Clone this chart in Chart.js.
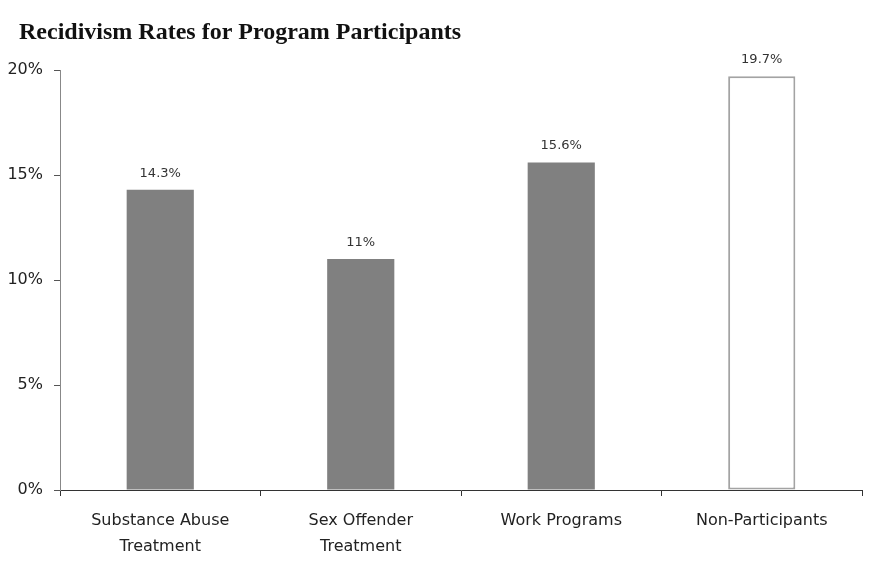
<!DOCTYPE html>
<html>
<head>
<meta charset="utf-8">
<script src="https://cdn.jsdelivr.net/npm/chart.js@4/dist/chart.umd.min.js"></script>
<style>
  html, body { margin: 0; padding: 0; background: #fff; }
  #wrap { width: 871px; height: 573px; }
</style>
</head>
<body>
<div id="wrap"><canvas id="recidivismChart"></canvas></div>
<script>
// Recidivism rates by program (percent)
const programs = [
    ['Substance Abuse', 'Treatment'],
    ['Sex Offender', 'Treatment'],
    'Work Programs',
    'Non-Participants'
];
const rates = [14.3, 11, 15.6, 19.7];
const yTicks = [0, 5, 10, 15, 20];
const chartTitle = 'Recidivism Rates for Program Participants';

const barFill = ['#808080', '#808080', '#808080', '#ffffff'];
const barEdge = ['#808080', '#808080', '#808080', '#a3a3a3'];
const barEdgeWidth = [0, 0, 0, 2];

// Left-aligned title flush with the page edge, not the plot
const titleText = {
    id: 'titleText',
    afterDraw(chart) {
        const ctx = chart.ctx;
        ctx.save();
        ctx.font = 'bold 24px "Liberation Serif"';
        ctx.fillStyle = '#111';
        ctx.textAlign = 'left';
        ctx.textBaseline = 'alphabetic';
        ctx.fillText(chartTitle, 19, 39);
        ctx.restore();
    }
};

// Value labels above each bar
const valueLabels = {
    id: 'valueLabels',
    afterDatasetsDraw(chart) {
        const ctx = chart.ctx;
        const meta = chart.getDatasetMeta(0);
        ctx.save();
        ctx.font = '13px "DejaVu Sans"';
        ctx.fillStyle = '#333';
        ctx.textAlign = 'center';
        ctx.textBaseline = 'bottom';
        meta.data.forEach((bar, i) => {
            ctx.fillText(rates[i] + '%', bar.x, bar.y - 10);
        });
        ctx.restore();
    }
};

new Chart(document.getElementById('recidivismChart'), {
    type: 'bar',
    data: {
        labels: programs,
        datasets: [{
            label: 'Recidivism rate',
            data: rates,
            backgroundColor: barFill,
            borderColor: barEdge,
            borderWidth: barEdgeWidth,
            borderSkipped: false,
            categoryPercentage: 1,
            barPercentage: 0.335
        }]
    },
    options: {
        responsive: true,
        maintainAspectRatio: false,
        animation: false,
        layout: { padding: { left: 0, right: 9, top: 70, bottom: 0 } },
        plugins: {
            legend: { display: false },
            tooltip: { enabled: false },
            title: { display: false }
        },
        scales: {
            x: {
                grid: {
                    offset: true,
                    drawOnChartArea: false,
                    tickLength: 6,
                    color: '#333'
                },
                border: { color: '#333', width: 1 },
                ticks: {
                    color: '#222',
                    padding: 12,
                    maxRotation: 0,
                    font: { family: '"DejaVu Sans"', size: 16, lineHeight: 1.6 }
                },
                afterFit(scale) { scale.height = 83; }
            },
            y: {
                min: 0,
                max: 20,
                afterBuildTicks(scale) {
                    scale.ticks = yTicks.map(v => ({ value: v }));
                },
                grid: {
                    drawOnChartArea: false,
                    tickLength: 6,
                    color: '#555'
                },
                border: { color: '#888', width: 1 },
                ticks: {
                    color: '#222',
                    padding: 11,
                    callback: v => v + '%',
                    font: { family: '"DejaVu Sans"', size: 16 }
                },
                afterFit(scale) { scale.width = 60; }
            }
        }
    },
    plugins: [valueLabels, titleText]
});
</script>
</body>
</html>
